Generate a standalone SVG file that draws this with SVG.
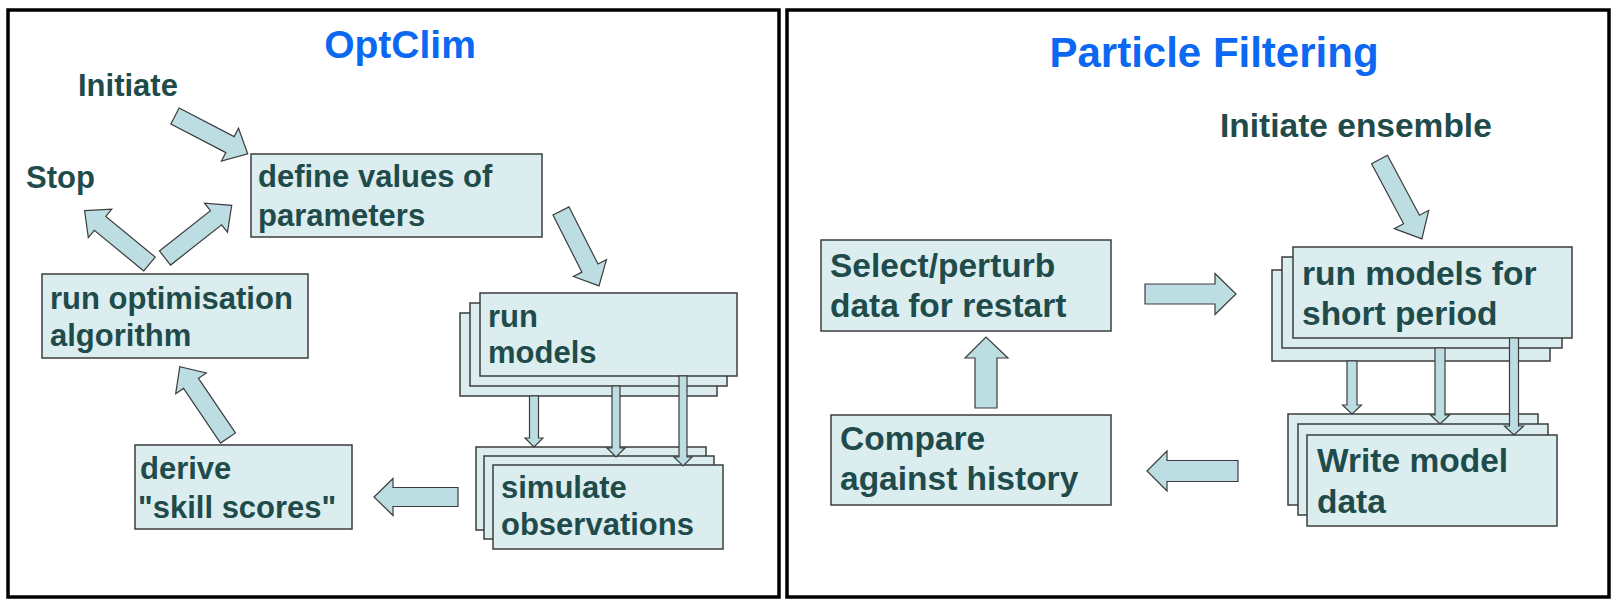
<svg xmlns="http://www.w3.org/2000/svg" width="1619" height="606" viewBox="0 0 1619 606">
<style>
.panel{fill:#ffffff;stroke:#000000;stroke-width:3.5}
.box{fill:#dbedef;stroke:#3c3c3c;stroke-width:1.5}
.arr{fill:#bcdde1;stroke:#3c3c3c;stroke-width:1.2;stroke-linejoin:miter}
.t{font-family:"Liberation Sans",Arial,sans-serif;font-weight:bold;fill:#1f4b4b}
.l{font-size:31px}
.r{font-size:33.5px}
.title{font-family:"Liberation Sans",Arial,sans-serif;font-weight:bold;fill:#0b68f2;text-anchor:middle}
</style>
<rect width="1619" height="606" fill="#ffffff"/>
<g id="panel-optclim">
<rect class="panel" x="8" y="10" width="771" height="587"/>
<text class="title" x="400" y="58" font-size="39">OptClim</text>
</g>
<g id="panel-particle">
<rect class="panel" x="787" y="10" width="822" height="587"/>
<text class="title" x="1214" y="67" font-size="42">Particle Filtering</text>
</g>

<g id="initiate">
<text class="t l" x="78" y="96">Initiate</text>
</g>
<g id="stop">
<text class="t l" x="26" y="188">Stop</text>
</g>
<g id="define-values">
<rect class="box" x="251" y="154" width="291" height="83"/>
<text class="t l" x="258" y="187">define values of</text>
<text class="t l" x="258" y="226">parameters</text>
</g>
<g id="run-optimisation">
<rect class="box" x="42" y="274" width="266" height="84"/>
<text class="t l" x="50" y="309">run optimisation</text>
<text class="t l" x="50" y="346">algorithm</text>
</g>
<g id="run-models">
<rect class="box" x="460" y="313" width="257" height="83"/>
<rect class="box" x="470" y="303" width="257" height="83"/>
<rect class="box" x="480" y="293" width="257" height="83"/>
<text class="t l" x="488" y="327">run</text>
<text class="t l" x="488" y="363">models</text>
</g>
<g id="simulate-observations">
<rect class="box" x="476" y="447" width="230" height="83"/>
<rect class="box" x="484" y="456" width="230" height="83"/>
<rect class="box" x="493" y="465" width="230" height="84"/>
<text class="t l" x="501" y="498">simulate</text>
<text class="t l" x="501" y="535">observations</text>
</g>
<g id="derive-skill">
<rect class="box" x="135" y="445" width="217" height="84"/>
<text class="t l" x="140" y="479">derive</text>
<text class="t l" x="138" y="518">"skill scores"</text>
</g>

<g id="initiate-ensemble">
<text class="t r" x="1220" y="137">Initiate ensemble</text>
</g>
<g id="select-perturb">
<rect class="box" x="821" y="240" width="290" height="91"/>
<text class="t r" x="830" y="277">Select/perturb</text>
<text class="t r" x="830" y="317">data for restart</text>
</g>
<g id="compare-history">
<rect class="box" x="831" y="415" width="280" height="90"/>
<text class="t r" x="840" y="450">Compare</text>
<text class="t r" x="840" y="490">against history</text>
</g>
<g id="run-models-short">
<rect class="box" x="1272" y="270" width="278" height="91"/>
<rect class="box" x="1282" y="257" width="280" height="91"/>
<rect class="box" x="1293" y="247" width="279" height="91"/>
<text class="t r" x="1302" y="285">run models for</text>
<text class="t r" x="1302" y="325">short period</text>
</g>
<g id="write-model-data">
<rect class="box" x="1288" y="414" width="250" height="91"/>
<rect class="box" x="1298" y="424" width="250" height="91"/>
<rect class="box" x="1307" y="435" width="250" height="91"/>
<text class="t r" x="1317" y="472">Write model</text>
<text class="t r" x="1317" y="513">data</text>
</g>

<g id="connectors">
<!-- OptClim -->
<polygon class="arr" points="0,-9 62,-9 62,-18.5 82,0 62,18.5 62,9 0,9" transform="translate(175,116) rotate(27.5)"/>
<polygon class="arr" points="0,-9 64,-9 64,-18.5 84,0 64,18.5 64,9 0,9" transform="translate(561,211) rotate(63.1)"/>
<polygon class="arr" points="0,-9 64,-9 64,-18.5 84,0 64,18.5 64,9 0,9" transform="translate(149.5,264) rotate(-140.6)"/>
<polygon class="arr" points="0,-9 65,-9 65,-18.5 85,0 65,18.5 65,9 0,9" transform="translate(165,258) rotate(-38.3)"/>
<polygon class="arr" points="0,-9 66,-9 66,-18.5 86,0 66,18.5 66,9 0,9" transform="translate(228,438) rotate(-124.1)"/>
<polygon class="arr" points="0,-9.5 65,-9.5 65,-18.5 84,0 65,18.5 65,9.5 0,9.5" transform="translate(458,497) rotate(180)"/>
<polygon class="arr" points="529.5,396 538.5,396 538.5,438 543,438 534,447 525,438 529.5,438"/>
<polygon class="arr" points="612,386 620,386 620,448 625,448 616,457 607,448 612,448"/>
<polygon class="arr" points="679,376 687,376 687,457 692,457 683,466 674,457 679,457"/>
<!-- Particle Filtering -->
<polygon class="arr" points="0,-9 68,-9 68,-19.5 90,0 68,19.5 68,9 0,9" transform="translate(1379.5,159.5) rotate(61.9)"/>
<polygon class="arr" points="1145,284 1215,284 1215,273.5 1236,294 1215,314.5 1215,304 1145,304"/>
<polygon class="arr" points="1238,460.5 1167,460.5 1167,451 1147,471 1167,491 1167,481.5 1238,481.5"/>
<polygon class="arr" points="975,408 975,358 965,358 986,337 1008,358 997,358 997,408"/>
<polygon class="arr" points="1347,361 1357,361 1357,405 1361.5,405 1352,414 1342.5,405 1347,405"/>
<polygon class="arr" points="1435,348 1445,348 1445,415 1449.5,415 1440,424 1430.5,415 1435,415"/>
<polygon class="arr" points="1509.5,338 1518.5,338 1518.5,426 1523.5,426 1514,435 1504.5,426 1509.5,426"/>
</g>
</svg>
